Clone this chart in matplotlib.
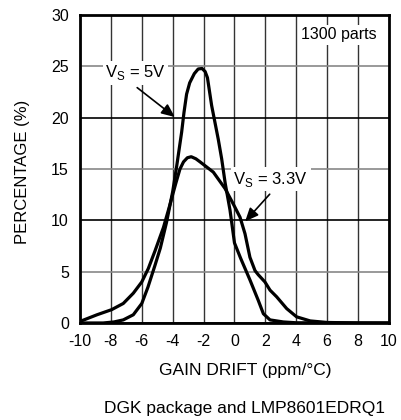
import matplotlib.pyplot as plt

plt.rcParams['font.family'] = ['Liberation Sans', 'DejaVu Sans']
plt.rcParams['mathtext.fontset'] = 'custom'
plt.rcParams['mathtext.rm'] = 'Liberation Sans'
plt.rcParams['axes.unicode_minus'] = False

# Vs = 5V
x_5v = [-10, -8.5, -7.8, -7.2, -6.55, -6.0, -5.6, -5.15, -4.8, -4.4, -4.0, -3.74,
        -3.42, -3.27, -3.1, -2.9, -2.6, -2.35, -2.1, -1.9, -1.75, -1.48, -1.05, -0.83,
        -0.6, -0.29, 0.0, 0.4, 1.0, 1.54, 1.87, 2.3, 3.16, 4.0, 10]
y_5v = [0, 0, 0.1, 0.3, 0.8, 1.9, 3.5, 5.6, 7.3, 9.8, 12.8, 15.3,
        18.6, 20.5, 22.3, 23.4, 24.3, 24.75, 24.8, 24.5, 23.9, 21.2, 17.9, 16.0,
        13.6, 11.0, 7.8, 6.3, 4.2, 2.2, 0.9, 0.3, 0.1, 0.02, 0]

# Vs = 3.3V
x_33v = [-10, -8.9, -7.95, -7.2, -6.55, -6.0, -5.58, -5.15, -4.6, -4.22, -3.8, -3.53,
         -3.3, -3.05, -2.8, -2.5, -2.23, -1.37, -0.61, -0.08, 0.36, 0.68, 1.0, 1.33, 1.54,
         1.97, 2.3, 2.73, 3.38, 4.02, 4.9, 6.0, 8, 10]
y_33v = [0.15, 0.8, 1.3, 1.9, 2.9, 4.0, 5.3, 7.0, 9.3, 11.3, 13.6, 15.0,
         15.7, 16.1, 16.2, 16.0, 15.7, 14.7, 13.1, 11.6, 10.3, 8.7, 6.4, 5.1, 4.7,
         4.0, 3.2, 2.55, 1.4, 0.6, 0.2, 0.05, 0, 0]

xticks = [-10, -8, -6, -4, -2, 0, 2, 4, 6, 8, 10]
yticks = [0, 5, 10, 15, 20, 25, 30]

fig = plt.figure(figsize=(4.01, 4.20), dpi=100)
ax = fig.add_axes([0.1995, 0.231, 0.7705, 0.733])

for xv in xticks:
    ax.axvline(xv, color='#333333', lw=1.0, zorder=1)
for yv in yticks:
    c = 'black' if yv % 10 == 0 else '#888888'
    ax.axhline(yv, color=c, lw=1.2, zorder=1)

ax.plot(x_5v, y_5v, color='black', lw=2.3, zorder=3, solid_capstyle='round', solid_joinstyle='round')
ax.plot(x_33v, y_33v, color='black', lw=2.3, zorder=3, solid_capstyle='round', solid_joinstyle='round')

ax.set_xlim(-10, 10)
ax.set_ylim(0, 30)
ax.set_xticks(xticks)
ax.set_yticks(yticks)
ax.tick_params(length=0, labelsize=11.5, pad=8)
for s in ax.spines.values():
    s.set_linewidth(2)
    s.set_zorder(4)

box = dict(boxstyle='square,pad=0.15', fc='white', ec='none')
ax.text(6.75, 28.1, '1300 parts', ha='center', va='center', fontsize=11.5, bbox=box, zorder=5)
ax.text(-6.4, 24.4, r'V$_{\rm S}$ = 5V', ha='center', va='center', fontsize=12, bbox=box, zorder=5)
ax.text(2.35, 14.0, r'V$_{\rm S}$ = 3.3V', ha='center', va='center', fontsize=12, bbox=box, zorder=5)

arrow = dict(arrowstyle='-|>,head_length=0.8,head_width=0.35', color='black', lw=1.2)
ax.annotate('', xy=(-3.72, 19.9), xytext=(-6.44, 23.1), arrowprops=arrow, zorder=5)
ax.annotate('', xy=(0.57, 9.7), xytext=(2.4, 12.75), arrowprops=arrow, zorder=5)

fig.text(23 / 401, 1 - 172 / 420, 'PERCENTAGE (%)', rotation=90, ha='center', va='center', fontsize=12)
fig.text(245 / 401, 1 - 370 / 420, 'GAIN DRIFT (ppm/°C)', ha='center', va='center', fontsize=12.5)
fig.text(245 / 401, 1 - 408 / 420, 'DGK package and LMP8601EDRQ1', ha='center', va='center', fontsize=12.5)

fig.savefig('out.png', dpi=100)
